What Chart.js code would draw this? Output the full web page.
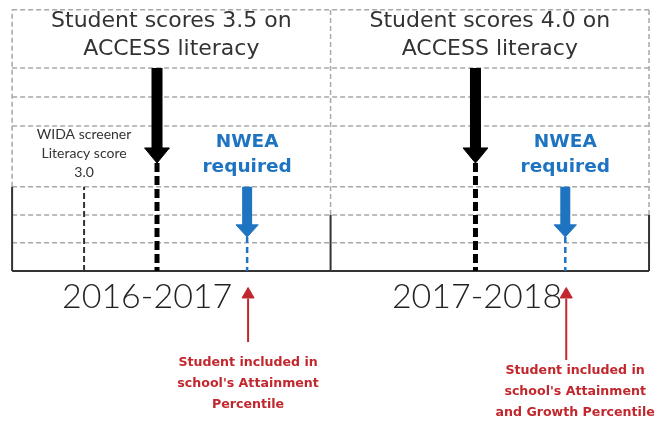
<!DOCTYPE html>
<html>
<head>
<meta charset="utf-8">
<script src="https://cdn.jsdelivr.net/npm/chart.js@4.4.0/dist/chart.umd.min.js"></script>
<style>
  html, body { margin: 0; padding: 0; background: #fff; }
  #wrap { width: 657px; height: 423px; position: relative; }
</style>
</head>
<body>
<div id="wrap"><canvas id="grafico"></canvas></div>
<script>
// one panel per school year (x: 0-1 first year, 1-2 second year)
const anios = ['2016-2017', '2017-2018'];
const titulos = [['Student scores 3.5 on', 'ACCESS literacy'], ['Student scores 4.0 on', 'ACCESS literacy']];
// moment in the year when each test happens (fraction of the year)
const momentoAccess = [0.455, 0.455];
const momentoNwea = [0.738, 0.737];
const momentoScreener = [0.226];
const textoScreener = ['WIDA screener', 'Literacy score', '3.0'];
const textoNwea = ['NWEA', 'required'];
const notas = [
  ['Student included in', "school's Attainment", 'Percentile'],
  ['Student included in', "school's Attainment", 'and Growth Percentile']
];
// grid rows (0 = solid base line)
const filasGrid = [0.97, 1.93, 2.9, 5, 6, 7, 9];
// height of the solid frame at x = 0, 1, 2
const marcoSolido = [2.9, 1.93, 1.93];

const gris = '#a8a8a8', oscuro = '#333', negro = '#000', azul = '#1f74c2', rojo = '#c1272d';

const ds = [];
function linea(puntos, estilo) {
  ds.push(Object.assign({ data: puntos, pointRadius: 0, fill: false, borderCapStyle: 'butt', tension: 0 }, estilo));
}
function tramo(x1, y1, x2, y2) { return [{ x: x1, y: y1 }, { x: x2, y: y2 }]; }
function punta(xc, base, tip, medio, color) {
  linea([{ x: xc - medio, y: base }, { x: xc, y: tip }, { x: xc + medio, y: base }, { x: xc - medio, y: base }],
    { borderColor: color, backgroundColor: color, borderWidth: 1, fill: 'shape' });
}

// grid
filasGrid.forEach(f => linea(tramo(0, f, 2, f), { borderColor: gris, borderWidth: 1.5, borderDash: [5, 3] }));
marcoSolido.forEach((h, i) => linea(tramo(i, h, i, 9), { borderColor: gris, borderWidth: 1.5, borderDash: [5, 3] }));
// solid frame
linea(tramo(0, 0, 2, 0), { borderColor: oscuro, borderWidth: 2 });
marcoSolido.forEach((h, i) => linea(tramo(i, 0, i, h), { borderColor: oscuro, borderWidth: 2 }));
// WIDA screener
momentoScreener.forEach(m => linea(tramo(m, 0, m, 2.9), { borderColor: oscuro, borderWidth: 2, borderDash: [6, 3] }));

// ACCESS test: black arrow + thick dashed line
momentoAccess.forEach((m, i) => {
  const xc = i + m;
  linea(tramo(xc, 7, xc, 4.22), { borderColor: negro, borderWidth: 11 });
  punta(xc, 4.24, 3.72, 0.039, negro);
  linea(tramo(xc, 3.72, xc, 0), { borderColor: negro, borderWidth: 5, borderDash: [9, 4] });
});

// NWEA: blue arrow + thin dashed line, red arrow from below
const rojaDesde = [-2.45, -3.07];
momentoNwea.forEach((m, i) => {
  const xc = i + m;
  linea(tramo(xc, 2.9, xc, 1.57), { borderColor: azul, borderWidth: 10 });
  punta(xc, 1.59, 1.17, 0.035, azul);
  linea(tramo(xc, 1.17, xc, 0), { borderColor: azul, borderWidth: 2.5, borderDash: [6, 4] });
  linea(tramo(xc + 0.003, rojaDesde[i], xc + 0.003, -0.95), { borderColor: rojo, borderWidth: 2 });
  punta(xc + 0.003, -0.93, -0.57, 0.019, rojo);
});

ds.forEach((d, i) => { d.order = -i; });

const textos = {
  id: 'textos',
  afterDatasetsDraw(chart) {
    const { ctx, scales: { x, y } } = chart;
    const escribir = (lineas, xv, yv, paso, font, color) => {
      ctx.save();
      ctx.font = font;
      ctx.fillStyle = color;
      ctx.textAlign = 'center';
      ctx.textBaseline = 'middle';
      lineas.forEach((t, k) => ctx.fillText(t, x.getPixelForValue(xv), y.getPixelForValue(yv) + k * paso));
      ctx.restore();
    };
    titulos.forEach((t, i) => escribir(t, i + 0.5, 8.59, 28, '22px "DejaVu Sans"', oscuro));
    const centroAnio = [0.424, 1.46];
    anios.forEach((t, i) => escribir([t], centroAnio[i], -0.9, 0, '300 34px Lato', '#222'));
    escribir(textoScreener, momentoScreener[0], 4.69, 19, '14px Lato', oscuro);
    momentoNwea.forEach((m, i) => escribir(textoNwea, i + m, 4.45, 25, 'bold 18.5px "DejaVu Sans"', azul));
    const centroNota = [0.741, 1.768], filaNota = [-3.17, -3.45];
    notas.forEach((t, i) => escribir(t, centroNota[i], filaNota[i], 21, 'bold 12.6px "DejaVu Sans"', rojo));
  }
};

new Chart(document.getElementById('grafico'), {
  type: 'line',
  data: { datasets: ds },
  options: {
    responsive: true,
    maintainAspectRatio: false,
    animation: false,
    events: [],
    layout: { padding: 0 },
    plugins: { legend: { display: false }, tooltip: { enabled: false } },
    scales: {
      x: { type: 'linear', min: -0.038, max: 2.025, display: false },
      y: { type: 'linear', min: -5.24, max: 9.34, display: false }
    }
  },
  plugins: [textos]
});
</script>
</body>
</html>
